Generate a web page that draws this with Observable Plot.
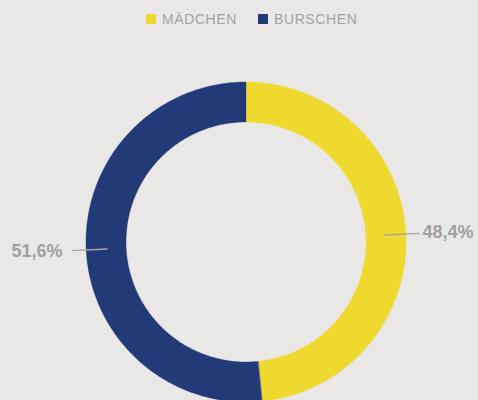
<!DOCTYPE html>
<html>
<head>
<meta charset="utf-8">
<script src="https://cdn.jsdelivr.net/npm/d3@7"></script>
<script src="https://cdn.jsdelivr.net/npm/@observablehq/plot@0.6"></script>
<style>
  html, body { margin: 0; padding: 0; background: #e9e8e6; overflow: hidden; width: 478px; height: 400px; }
  #legend { position: relative; height: 36px; width: 478px; font-family: "Liberation Sans", Arial, sans-serif; }
  .item { position: absolute; top: 11px; display: flex; align-items: center; font-size: 14px; letter-spacing: 0.6px; color: #a3a3a3; }
  .sw { width: 10px; height: 10px; margin-right: 6px; }
  #chart svg { display: block; }
</style>
</head>
<body>
<div id="legend"></div>
<div id="chart"></div>
<script>
const categories = ["MÄDCHEN", "BURSCHEN"];
const shares = [48.4, 51.6];
const valueLabels = ["48,4%", "51,6%"];
const sliceColors = ["#f0d92f", "#233a78"];

// legend
const legendPos = [146, 258];
const legend = document.getElementById("legend");
categories.forEach((c, i) => {
  const d = document.createElement("div");
  d.className = "item";
  d.style.left = legendPos[i] + "px";
  d.innerHTML = `<span class="sw" style="background:${sliceColors[i]}"></span><span>${c}</span>`;
  legend.appendChild(d);
});

const W = 478, H = 364;
const cx = 245.5, cy = 205.5, R = 160;
const inner = 0.75;
const total = d3.sum(shares);

// slice geometry from data
const ring = [];
const leaders = [];
const texts = [];
let start = 0;
categories.forEach((cat, i) => {
  const a0 = start, a1 = start + shares[i] / total * 360;
  start = a1;
  const pt = (a, r) => ({cat, x: r * Math.sin(a * Math.PI / 180), y: r * Math.cos(a * Math.PI / 180)});
  const n = Math.max(2, Math.ceil(a1 - a0));
  for (let k = 0; k <= n; k++) ring.push(pt(a0 + (a1 - a0) * k / n, 1));
  for (let k = n; k >= 0; k--) ring.push(pt(a0 + (a1 - a0) * k / n, inner));
  const mid = (a0 + a1) / 2;
  leaders.push({...pt(mid, 0.87), id: i});
  leaders.push({...pt(mid, 1.085), id: i});
  const t = pt(mid, 1.11);
  texts.push({...t, label: valueLabels[i], anchor: t.x >= 0 ? "start" : "end"});
});

const labelStyle = {x: "x", y: "y", text: "label", fill: "#a0a0a0", fontSize: 18, fontWeight: "bold", fontFamily: "Liberation Sans, Arial, sans-serif", letterSpacing: "0.3px"};

const plot = Plot.plot({
  width: W,
  height: H,
  margin: 0,
  style: {background: "transparent", overflow: "hidden"},
  x: {domain: [-1, 1], range: [cx - R, cx + R], axis: null},
  y: {domain: [-1, 1], range: [cy + R, cy - R], axis: null},
  color: {domain: categories, range: sliceColors},
  marks: [
    Plot.line(ring, {x: "x", y: "y", z: "cat", fill: "cat", stroke: "cat", strokeWidth: 0.4, curve: "linear-closed"}),
    Plot.line(leaders, {x: "x", y: "y", z: "id", stroke: "#a6a6a6", strokeWidth: 1.3}),
    Plot.text(texts.filter(d => d.anchor === "start"), {...labelStyle, textAnchor: "start", dx: -1, dy: -1}),
    Plot.text(texts.filter(d => d.anchor === "end"), {...labelStyle, textAnchor: "end", dx: -6, dy: 0})
  ]
});
document.getElementById("chart").appendChild(plot);
</script>
</body>
</html>
